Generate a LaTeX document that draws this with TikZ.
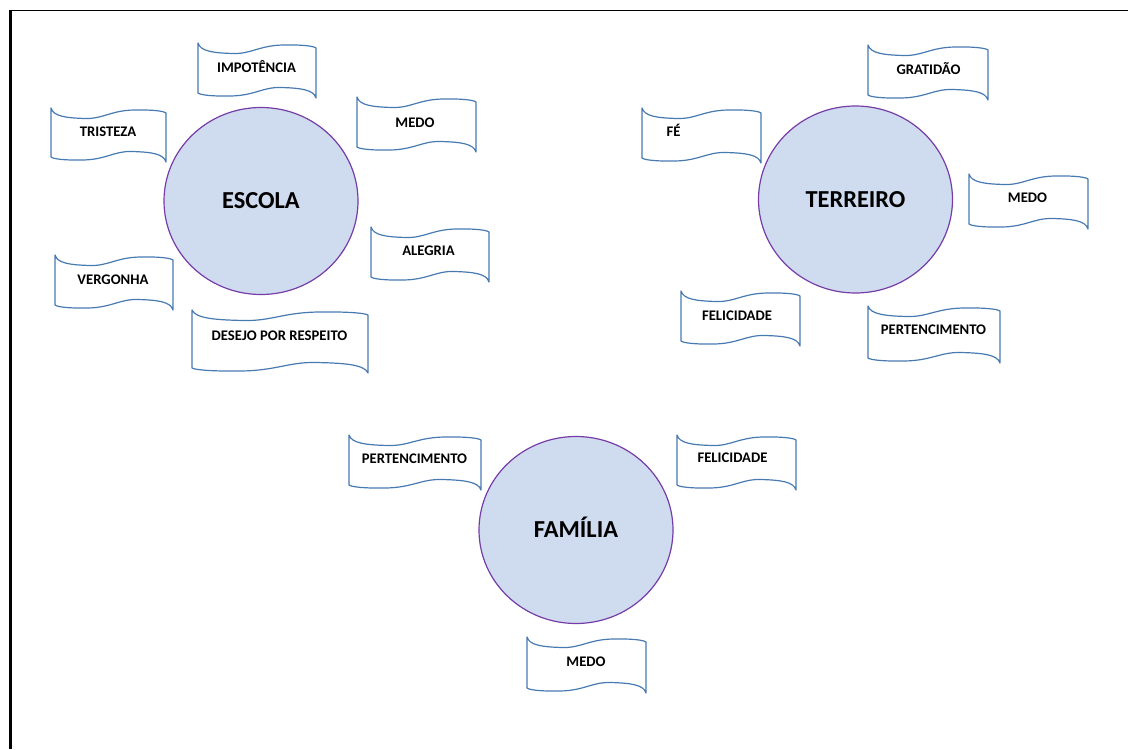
\documentclass[tikz,border=0pt]{standalone}
\usepackage{fontspec}
\setmainfont{Carlito}
\usetikzlibrary{shapes.geometric}
\definecolor{circfill}{RGB}{207,219,239}
\definecolor{circline}{RGB}{118,60,168}
\definecolor{flagblue}{RGB}{72,122,178}
\tikzset{
  hub/.style={ellipse, fill=circfill, draw=circline, line width=0.9pt, minimum width=194*0.75pt, minimum height=187*0.75pt, inner sep=0pt, text height=11.6pt, text depth=0pt, font=\bfseries\fontsize{18.3}{20}\selectfont},
  flagline/.style={draw=flagblue, line width=0.9pt, fill=white, line join=round},
  flagtext/.style={inner sep=0pt, anchor=base, font=\bfseries\fontsize{11}{13}\selectfont},
}
% #1 name, #2 x, #3 y, #4 w, #5 h, #6 text x, #7 text y, #8 text
\newcommand\flagbox[8]{%
  \draw[flagline] (#2,#3)
    .. controls (#2+0.02*#4,#3+8) and (#2+0.12*#4,#3+10) .. (#2+0.3*#4,#3+10.5)
    .. controls (#2+0.45*#4,#3+11) and (#2+0.52*#4,#3+2.5) .. (#2+0.72*#4,#3+2)
    .. controls (#2+0.88*#4,#3+1.6) and (#2+0.98*#4,#3+3) .. (#2+#4,#3+5)
    -- (#2+#4,#3+#5+5)
    .. controls (#2+0.98*#4,#3+#5-3) and (#2+0.88*#4,#3+#5-5) .. (#2+0.7*#4,#3+#5-5.5)
    .. controls (#2+0.55*#4,#3+#5-6) and (#2+0.48*#4,#3+#5+2.5) .. (#2+0.28*#4,#3+#5+3)
    .. controls (#2+0.12*#4,#3+#5+3.4) and (#2+0.02*#4,#3+#5+2) .. (#2,#3+#5)
    -- cycle;
  \node[flagtext] (#1) at (#6,#7+4.7) {#8};
}
\begin{document}
\begin{tikzpicture}[x=0.75pt,y=-0.75pt]
\useasboundingbox (0,0) rectangle (1130,749);
\draw[line width=1pt] (10,10.5) -- (1128,10.5);
\draw[line width=1.6pt] (10.5,10) -- (10.5,749);
% ESCOLA
\node[hub] (escola) at (261,201) {ESCOLA};
\flagbox{impotencia}{198}{43}{118}{50}{256.5}{68}{IMPOTÊNCIA}
\flagbox{tristeza}{51}{108}{115}{49}{108}{132}{TRISTEZA}
\flagbox{medoe}{357}{97}{119}{50}{415}{123}{MEDO}
\flagbox{alegria}{371}{227}{118}{50}{428.5}{251}{ALEGRIA}
\flagbox{vergonha}{55}{255}{118}{50}{113}{280}{VERGONHA}
\flagbox{desejo}{192}{310}{176}{58}{279.5}{336}{DESEJO POR RESPEITO}
% TERREIRO
\node[hub] (terreiro) at (855.5,199.5) {TERREIRO};
\flagbox{gratidao}{868}{45}{120}{50}{928.5}{70}{GRATIDÃO}
\flagbox{fe}{642}{108}{119}{50}{673.5}{132}{FÉ}
\flagbox{medot}{969}{174}{119}{50}{1027.5}{198}{MEDO}
\flagbox{felicidadet}{681}{291}{119}{50}{737}{316}{FELICIDADE}
\flagbox{pertencimentot}{868}{306}{132}{52}{933.5}{330}{PERTENCIMENTO}
% FAMILIA
\node[hub] (familia) at (576,530) {FAMÍLIA};
\flagbox{pertencimentof}{349}{435}{132}{50}{414.5}{459}{PERTENCIMENTO}
\flagbox{felicidadef}{677}{435}{119}{50}{732.5}{458}{FELICIDADE}
\flagbox{medof}{527}{637}{119}{51}{586}{662}{MEDO}
\end{tikzpicture}
\end{document}
